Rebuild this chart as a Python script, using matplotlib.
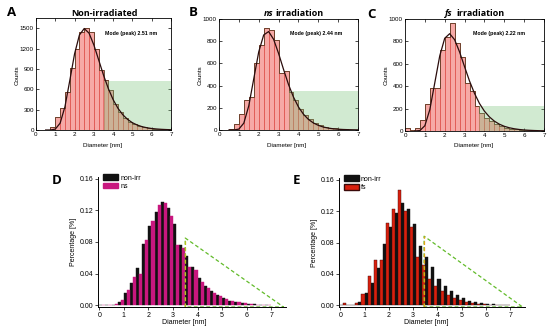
import matplotlib
matplotlib.use('Agg')
import matplotlib.pyplot as plt
from matplotlib.patches import Patch
import numpy as np

W, H = 550, 333

# ---------------- data ----------------
BIN_WIDTH = 0.25
BIN_LEFT = np.arange(0, 7, BIN_WIDTH)          # 28 bins 0 .. 6.75
BIN_EDGES = np.arange(0, 7.001, BIN_WIDTH)

A_COUNTS = [0, 0, 5, 50, 195, 330, 560, 915, 1200, 1440, 1500, 1440, 1200, 880,
            730, 590, 380, 260, 180, 125, 88, 60, 42, 28, 19, 12, 8, 5]
B_COUNTS = [3, 3, 10, 50, 140, 270, 300, 600, 770, 920, 900, 810, 510, 535,
            340, 270, 190, 135, 95, 65, 45, 30, 20, 14, 9, 6, 4, 3]
C_COUNTS = [25, 10, 25, 100, 240, 380, 380, 720, 835, 965, 790, 665, 430, 355,
            225, 160, 115, 85, 60, 45, 30, 20, 15, 10, 5, 3, 2, 1]

CURVE_X = np.arange(0.5, 7.001, 0.25)
A_FIT = [0, 0.5, 13, 100, 342, 726, 1122, 1399, 1495, 1427, 1253, 1032, 809, 611,
         447, 320, 225, 156, 107, 73, 49, 33, 22, 15, 10, 6.5, 4]
B_FIT = [0, 0.3, 8, 62, 218, 461, 703, 856, 887, 817, 690, 546, 410, 297,
         208, 143, 96, 64, 42, 27, 17.5, 11, 7, 4.6, 3, 1.9, 1.2]
C_FIT = [0, 4, 47, 191, 430, 671, 828, 869, 815, 705, 574, 446, 336, 246,
         177, 126, 88, 61, 42, 29, 20, 13.6, 9.3, 6.3, 4.3, 2.9, 2.0]

MODES = ["2.51", "2.44", "2.22"]
GREEN_LEFT = [3.5, 3.5, 3.75]
GREEN_TOP = [720, 350, 225]

NONIRR_PCT = [0.0005, 0.0005, 0.001, 0.004, 0.016, 0.028, 0.047, 0.078, 0.100, 0.118,
              0.130, 0.123, 0.103, 0.076, 0.062, 0.049, 0.034, 0.025, 0.018, 0.013,
              0.009, 0.006, 0.004, 0.003, 0.002, 0.0015, 0.001, 0.001]
NS_PCT = [0.0005, 0.0005, 0.002, 0.007, 0.020, 0.036, 0.040, 0.083, 0.107, 0.127,
          0.129, 0.113, 0.076, 0.072, 0.049, 0.045, 0.030, 0.022, 0.016, 0.012,
          0.008, 0.006, 0.004, 0.003, 0.002, 0.001, 0.001, 0.0005]
FS_PCT = [0.003, 0.001, 0.003, 0.015, 0.037, 0.058, 0.058, 0.105, 0.123, 0.147,
          0.120, 0.100, 0.062, 0.052, 0.034, 0.025, 0.018, 0.013, 0.009, 0.007,
          0.0045, 0.003, 0.002, 0.0015, 0.001, 0.0005, 0.0003, 0.0002]

TRI_D_X = [3.5, 3.5, 7.5, 3.5]
TRI_D_Y = [-0.002, 0.085, -0.002, -0.002]
TRI_E_X = [3.45, 3.45, 7.5, 3.45]
TRI_E_Y = [-0.002, 0.088, -0.002, -0.002]

# ---------------- style ----------------
plt.rcParams['font.family'] = ['Liberation Sans', 'DejaVu Sans']
PINK = '#f6a9a6'
REDEDGE = '#dd4a44'
DARK = '#5a3a22'
FIT = '#2a0c0c'
GREEN = '#7cc47c'
MAGENTA = '#c8177e'
RED = '#d8200e'
TRI = '#62bb2a'

fig = plt.figure(figsize=(W / 100, H / 100), dpi=100)


def rect(l, t, r, b):
    return [l / W, 1 - b / H, (r - l) / W, (b - t) / H]


def ftext(x, y, s, **kw):
    fig.text(x / W, 1 - y / H, s, **kw)


top_specs = [
    (rect(36, 18, 171, 130), A_COUNTS, A_FIT, 1650, [0, 300, 600, 900, 1200, 1500]),
    (rect(219, 19, 358, 130), B_COUNTS, B_FIT, 1000, [0, 200, 400, 600, 800, 1000]),
    (rect(405, 19, 544, 131), C_COUNTS, C_FIT, 1000, [0, 200, 400, 600, 800, 1000]),
]

for i, (r, counts, fit, ymax, yt) in enumerate(top_specs):
    ax = fig.add_axes(r)
    ax.bar(BIN_LEFT, counts, width=BIN_WIDTH, align='edge', color=PINK,
           edgecolor=REDEDGE, linewidth=0.5, zorder=2)
    ax.stairs(counts, BIN_EDGES, color=DARK, linewidth=0.6, zorder=2.5)
    ax.fill_between([GREEN_LEFT[i], 7], 0, GREEN_TOP[i], color=GREEN,
                    alpha=0.35, linewidth=0, zorder=3)
    ax.plot(CURVE_X, fit, color=FIT, linewidth=0.9, zorder=4)
    ax.set_xlim(0, 7)
    ax.set_ylim(0, ymax)
    ax.set_xticks(range(8))
    ax.set_yticks(yt)
    ax.tick_params(labelsize=4.5, length=2, width=0.5, pad=1.5,
                   direction='in', top=True, right=True)
    for s in ax.spines.values():
        s.set_linewidth(0.6)
    ftext(r[0] * W + (r[2] * W) / 2 + 2 * 0, 0, '')

# axis labels top row
for cx, ly in [(103, 17), (287, 200), (474, 386)]:
    ftext(cx, 145, 'Diameter [nm]', ha='center', va='center', fontsize=4.5)
    ftext(ly, 75, 'Counts', ha='center', va='center', fontsize=4.5, rotation=90)

# titles
TB = dict(va='center', fontsize=6.5, fontweight='bold', family='Open Sans')
ftext(104, 13, 'Non-irradiated', ha='center', **TB)
ftext(273, 13, 'ns', ha='right', style='italic', **TB)
ftext(275, 13, 'irradiation', ha='left', **TB)
ftext(453, 13, 'fs', ha='right', style='italic', **TB)
ftext(456, 13, 'irradiation', ha='left', **TB)

# mode texts
for x, m in zip([105, 290, 473], MODES):
    ftext(x, 34, f'Mode (peak) {m} nm', ha='left', va='center',
          fontsize=3.8, fontweight='bold')

# panel letters
LB = dict(ha='center', va='center', fontsize=9.5, fontweight='bold', family='Open Sans')
ftext(12, 13, 'A', **LB)
ftext(193, 13, 'B', **LB)
ftext(372, 14, 'C', **LB)
ftext(57, 181, 'D', **LB)
ftext(297, 181, 'E', **LB)

# ---------------- bottom panels ----------------
bottom_specs = [
    (rect(98, 177, 286, 307), NS_PCT, MAGENTA, 'ns', TRI_D_X, TRI_D_Y, '#b9c21e', 184),
    (rect(339, 178, 525, 307), FS_PCT, RED, 'fs', TRI_E_X, TRI_E_Y, '#e2a514', 426),
]

for r, pct, col, lab, tx, ty, vcol, xc in bottom_specs:
    ax = fig.add_axes(r)
    half = BIN_WIDTH / 2
    ax.bar(BIN_LEFT, NONIRR_PCT, width=half, align='edge', color='#111111',
           edgecolor='#111111', linewidth=0.3, zorder=2)
    ax.bar(BIN_LEFT + half, pct, width=half, align='edge', color=col,
           edgecolor='#3a0a0a' if lab == 'fs' else col, linewidth=0.3, zorder=2)
    ax.plot(tx, ty, color=TRI, linewidth=0.9, linestyle=(0, (3, 2)), zorder=5)
    ax.plot(tx[:2], ty[:2], color=vcol, linewidth=0.9, linestyle=(0, (3, 2)), zorder=6)
    ax.set_xlim(-0.05, 7.6)
    ax.set_ylim(-0.002, 0.162)
    ax.set_xticks(range(8))
    ax.set_yticks([0, 0.04, 0.08, 0.12, 0.16])
    ax.set_yticklabels(['0.00', '0.04', '0.08', '0.12', '0.16'])
    ax.tick_params(labelsize=5, length=2, width=0.5, pad=1.5)
    for s in ['top', 'right']:
        ax.spines[s].set_visible(False)
    for s in ['left', 'bottom']:
        ax.spines[s].set_linewidth(0.7)
    ax.set_ylabel('Percentage [%]', fontsize=5, labelpad=2)
    ftext(xc, 323, 'Diameter [nm]', ha='center', va='center', fontsize=5)
    handles = [Patch(facecolor='#111111', edgecolor='#111111'),
               Patch(facecolor=col, edgecolor='#3a0a0a' if lab == 'fs' else col)]
    ax.legend(handles, ['non-irr', lab], loc='upper left', bbox_to_anchor=(0.025, 1.02),
              frameon=False, fontsize=5, handlelength=2.2, handleheight=0.9,
              labelspacing=0.15, handletextpad=0.3, borderpad=0, borderaxespad=0)

fig.savefig('out.png', dpi=100)
